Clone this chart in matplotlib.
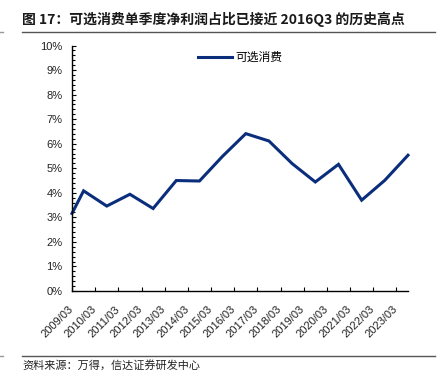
import matplotlib
matplotlib.use("Agg")
import matplotlib.pyplot as plt
import matplotlib.transforms as mtransforms
from matplotlib.ticker import MultipleLocator, FuncFormatter
from matplotlib.lines import Line2D

plt.rcParams['font.family'] = ['Noto Sans CJK SC', 'DejaVu Sans']

# Data
tick_labels = ['2009/03', '2010/03', '2011/03', '2012/03', '2013/03', '2014/03', '2015/03',
               '2016/03', '2017/03', '2018/03', '2019/03', '2020/03', '2021/03', '2022/03', '2023/03']
# positions in years after 2009/03 (first point at 2009/03, then each Q3)
x_pos = [0.0, 0.5, 1.5, 2.5, 3.5, 4.5, 5.5, 6.5, 7.5, 8.5, 9.5, 10.5, 11.5, 12.5, 13.5, 14.5]
values = [3.16, 4.08, 3.46, 3.94, 3.36, 4.50, 4.48, 5.49, 6.41, 6.11, 5.19, 4.44, 5.16, 3.70, 4.51, 5.53]
series_name = '可选消费'

title = '图 17：可选消费单季度净利润占比已接近 2016Q3 的历史高点'
source = '资料来源：万得，信达证券研发中心'

fig = plt.figure(figsize=(4.4, 3.88), dpi=100)
ax = fig.add_axes([72/440, 97/388, (408-72)/440, (291-45.5)/388])

line_color = '#0b2e7c'
ax.plot(x_pos, values, color=line_color, lw=2.2, solid_joinstyle='miter', clip_on=False)

ax.set_xlim(0, 14.5)
ax.set_ylim(0, 10)
for s in ['top', 'right']:
    ax.spines[s].set_visible(False)
for s in ['left', 'bottom']:
    ax.spines[s].set_linewidth(1.0)
    ax.spines[s].set_color('black')

ax.yaxis.set_major_locator(MultipleLocator(1))
ax.yaxis.set_minor_locator(MultipleLocator(0.2))
ax.yaxis.set_major_formatter(FuncFormatter(lambda v, p: f'{int(round(v))}%'))
ax.tick_params(axis='y', which='major', direction='in', length=3, width=0.8, labelsize=8,
               pad=7, labelfontfamily='Liberation Sans', labelcolor='#222222')
ax.tick_params(axis='y', which='minor', direction='in', length=2, width=0.8)

ax.set_xticks(range(len(tick_labels)))
ax.set_xticklabels(tick_labels, rotation=45, ha='right', va='top', rotation_mode='anchor',
                   fontsize=8, family='Liberation Sans', color='#222222')
ax.tick_params(axis='x', which='major', direction='in', length=3, width=0.8, pad=8)
offset = mtransforms.ScaledTranslation(-4/100, -2/100, fig.dpi_scale_trans)
for lab in ax.get_xticklabels():
    lab.set_transform(lab.get_transform() + offset)

# legend
handle = Line2D([], [], color=line_color, lw=2.2)
ax.legend([handle], [series_name], loc='upper center', bbox_to_anchor=(0.5, 1.02),
          frameon=False, fontsize=8.5, handlelength=2.9, handletextpad=0.3)

# title and rules
fig.text(22/440, 1 - 19/388, title, fontsize=10, fontweight='bold', color='#1a1a1a',
         ha='left', va='center')
for yy in [31.5, 356]:
    fig.add_artist(Line2D([22/440, 435/440], [1 - yy/388, 1 - yy/388], color='#555555', lw=1.0))
    fig.add_artist(Line2D([0, 3/440], [1 - yy/388, 1 - yy/388], color='#999999', lw=1.0))
fig.text(22/440, 1 - 365/388, source, fontsize=8, style='italic', color='#222222',
         ha='left', va='center')

fig.savefig('out.png', dpi=100)
